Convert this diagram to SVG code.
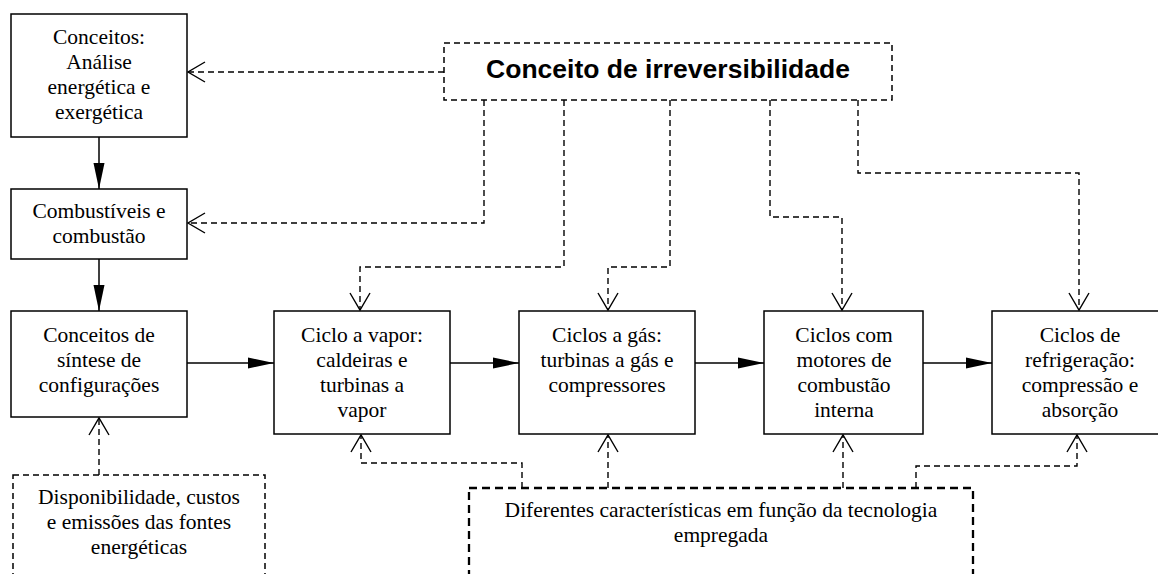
<svg xmlns="http://www.w3.org/2000/svg" width="1158" height="574" viewBox="0 0 1158 574">
<style>
.box{fill:#fff;stroke:#000;stroke-width:1.5}
.dbox{fill:#fff;stroke:#000;stroke-width:1.5;stroke-dasharray:6,4}
.dbox2{fill:#fff;stroke:#000;stroke-width:2.3;stroke-dasharray:8,5}
.t{font-family:"Liberation Serif","Times New Roman",serif;font-size:21.5px;text-anchor:middle;fill:#000}
.tb{font-family:"Liberation Sans",Arial,sans-serif;font-size:26.5px;font-weight:bold;text-anchor:middle;fill:#000}
.solid{fill:none;stroke:#000;stroke-width:1.5;marker-end:url(#fa)}
.dash{fill:none;stroke:#000;stroke-width:1.4;stroke-dasharray:6,4;marker-end:url(#oa)}
</style>
<defs>
<marker id="fa" markerUnits="userSpaceOnUse" viewBox="-27 -6 28 12" refX="0" refY="0" markerWidth="28" markerHeight="12" orient="auto">
<path d="M-26,-5.5 L0,0 L-26,5.5 Z" fill="#000" stroke="none"/>
</marker>
<marker id="oa" markerUnits="userSpaceOnUse" viewBox="-19 -11 21 22" refX="0" refY="0" markerWidth="21" markerHeight="22" orient="auto">
<path d="M-17,-10 L0,0 L-17,10" fill="none" stroke="#000" stroke-width="1.4" stroke-dasharray="none"/>
</marker>
</defs>
<rect width="1158" height="574" fill="#fff"/>
<g id="connectors">
<path class="solid" d="M99,137 V189"/>
<path class="solid" d="M99,259 V311"/>
<path class="solid" d="M187,363 H274"/>
<path class="solid" d="M450,363 H519"/>
<path class="solid" d="M695,363 H764"/>
<path class="solid" d="M923,363 H992"/>
<path class="dash" d="M444,72 H188"/>
<path class="dash" d="M484,100 V223 H188"/>
<path class="dash" d="M564,100 V267 H360 V310"/>
<path class="dash" d="M670,100 V267 H608 V310"/>
<path class="dash" d="M770,100 V217 H842 V310"/>
<path class="dash" d="M858,100 V173 H1079 V310"/>
<path class="dash" d="M99,475 V418"/>
<path class="dash" d="M522,488 V463 H361 V435"/>
<path class="dash" d="M608,488 V435"/>
<path class="dash" d="M843,488 V435"/>
<path class="dash" d="M916,488 V466 H1077 V435"/>
</g>
<g id="irreversibilidade">
<rect class="dbox" x="444" y="43" width="448" height="57"/>
<text class="tb" x="668" y="78">Conceito de irreversibilidade</text>
</g>
<g id="analise">
<rect class="box" x="11" y="14" width="176" height="123"/>
<text class="t" x="99" y="44">Conceitos:</text>
<text class="t" x="99" y="69">Análise</text>
<text class="t" x="99" y="94">energética e</text>
<text class="t" x="99" y="119">exergética</text>
</g>
<g id="combustiveis">
<rect class="box" x="11" y="189" width="176" height="70"/>
<text class="t" x="99" y="218">Combustíveis e</text>
<text class="t" x="99" y="243">combustão</text>
</g>
<g id="sintese">
<rect class="box" x="11" y="311" width="176" height="106"/>
<text class="t" x="99" y="342">Conceitos de</text>
<text class="t" x="99" y="367">síntese de</text>
<text class="t" x="99" y="392">configurações</text>
</g>
<g id="vapor">
<rect class="box" x="274" y="311" width="176" height="123"/>
<text class="t" x="362" y="342">Ciclo a vapor:</text>
<text class="t" x="362" y="367">caldeiras e</text>
<text class="t" x="362" y="392">turbinas a</text>
<text class="t" x="362" y="417">vapor</text>
</g>
<g id="gas">
<rect class="box" x="519" y="311" width="176" height="123"/>
<text class="t" x="607" y="342">Ciclos a gás:</text>
<text class="t" x="607" y="367">turbinas a gás e</text>
<text class="t" x="607" y="392">compressores</text>
</g>
<g id="motores">
<rect class="box" x="764" y="311" width="159" height="123"/>
<text class="t" x="844" y="342">Ciclos com</text>
<text class="t" x="844" y="367">motores de</text>
<text class="t" x="844" y="392">combustão</text>
<text class="t" x="844" y="417">interna</text>
</g>
<g id="refrigeracao">
<rect class="box" x="992" y="311" width="176" height="123"/>
<text class="t" x="1080" y="342">Ciclos de</text>
<text class="t" x="1080" y="367">refrigeração:</text>
<text class="t" x="1080" y="392">compressão e</text>
<text class="t" x="1080" y="417">absorção</text>
</g>
<g id="disponibilidade">
<rect class="dbox" x="13" y="475" width="252" height="110"/>
<text class="t" x="139" y="504">Disponibilidade, custos</text>
<text class="t" x="139" y="529">e emissões das fontes</text>
<text class="t" x="139" y="554">energéticas</text>
</g>
<g id="tecnologia">
<rect class="dbox2" x="469" y="488" width="504" height="100"/>
<text class="t" x="721" y="517">Diferentes características em função da tecnologia</text>
<text class="t" x="721" y="542">empregada</text>
</g>
</svg>
